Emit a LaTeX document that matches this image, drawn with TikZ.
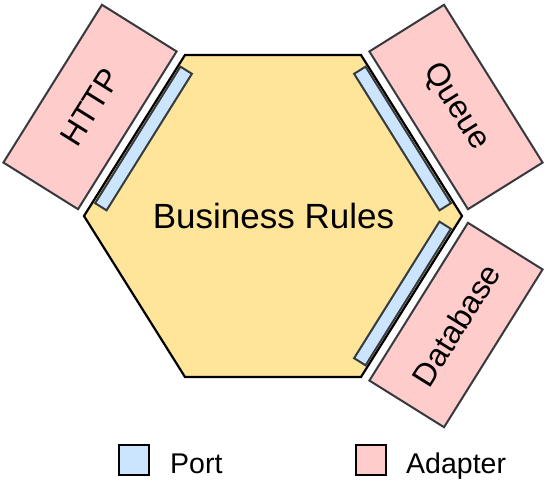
\documentclass[tikz,border=0pt]{standalone}
\usepackage{fontspec}
\setmainfont{Liberation Sans}
\definecolor{hexfill}{HTML}{FFE599}
\definecolor{portfill}{HTML}{CCE5FF}
\definecolor{adfill}{HTML}{FFCCCC}
\definecolor{edgegray}{HTML}{36393D}
\begin{document}
\begin{tikzpicture}[x=1pt,y=1pt,
  hexa/.style={draw=black, line width=2.2pt, fill=hexfill, line join=miter},
  portbox/.style={draw=edgegray, line width=2pt, fill=portfill, minimum width=161pt, minimum height=13.5pt, inner sep=0pt},
  adapterbox/.style={draw=edgegray, line width=2pt, fill=adfill, minimum width=186pt, minimum height=88pt, inner sep=0pt, font=\fontsize{32}{38}\selectfont},
  legendbox/.style={draw=black, line width=2pt, minimum size=30pt, inner sep=0pt},
  legendtext/.style={anchor=base west, inner sep=0pt, font=\fontsize{28.5}{34}\selectfont}]
\useasboundingbox (0,0) rectangle (555,480);
% hexagon
\draw[hexa] (185,425) coordinate (h1) -- (361,425) coordinate (h2) -- (462,264) coordinate (h3)
  -- (361,103) coordinate (h4) -- (185,103) coordinate (h5) -- (84,264) coordinate (h6) -- cycle;
\node[font=\fontsize{35}{42}\selectfont, inner sep=0pt] (core) at (273.5,264.5) {Business Rules};
% ports
\node[portbox, rotate=58] (p1) at (143.5,341.5) {};
\node[portbox, rotate=-58] (p2) at (402.5,341.5) {};
\node[portbox, rotate=58] (p3) at (402.5,186.5) {};
% adapters
\node[adapterbox, rotate=58] (a1) at (90,373) {HTTP};
\node[adapterbox, rotate=-58] (a2) at (456,373) {Queue};
\node[adapterbox, rotate=58] (a3) at (456,155) {Database};
% legend
\node[legendbox, fill=portfill] (lp) at (134,20) {};
\node[legendtext] (lpt) at (170,7) {Port};
\node[legendbox, fill=adfill] (la) at (371,20) {};
\node[legendtext] (lat) at (406,7) {Adapter};
\end{tikzpicture}
\end{document}
